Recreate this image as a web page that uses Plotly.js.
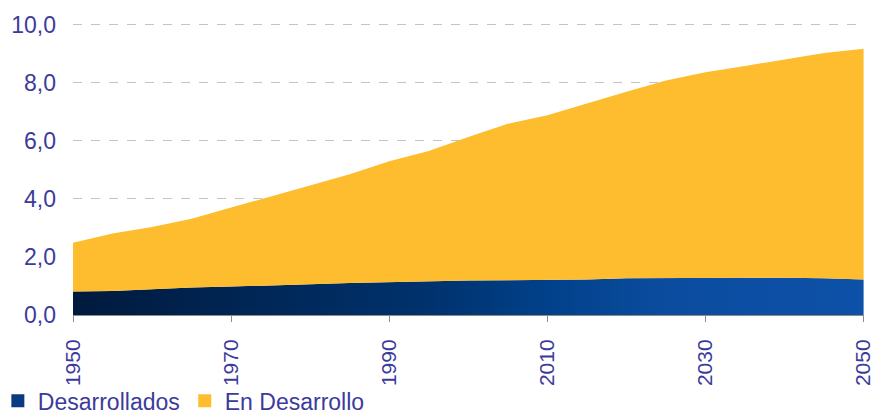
<!DOCTYPE html>
<html>
<head>
<meta charset="utf-8">
<script src="https://cdn.plot.ly/plotly-3.0.1.min.js"></script>
<style>
  html, body { margin: 0; padding: 0; background: #fff; }
  #chart { width: 874px; height: 414px; }
</style>
</head>
<body>
<div id="chart"></div>
<script>
// población mundial (miles de millones), cada 5 años
const years = [1950, 1955, 1960, 1965, 1970, 1975, 1980, 1985, 1990, 1995, 2000,
               2005, 2010, 2015, 2020, 2025, 2030, 2035, 2040, 2045, 2050];
const desarrollados = [0.81, 0.83, 0.89, 0.95, 0.98, 1.03, 1.06, 1.10, 1.13, 1.18, 1.19,
                       1.20, 1.21, 1.22, 1.27, 1.28, 1.28, 1.28, 1.28, 1.27, 1.22];
const enDesarrollo = [1.68, 1.98, 2.14, 2.37, 2.72, 3.06, 3.41, 3.75, 4.17, 4.47, 4.94,
                      5.39, 5.67, 6.07, 6.42, 6.80, 7.08, 7.30, 7.52, 7.76, 7.95];
const yTicks = [0, 2, 4, 6, 8, 10];
const xTicks = [1950, 1970, 1990, 2010, 2030, 2050];

const textColor = '#3b3b9c';
const blue = '#0a3b7e';
const yellow = '#fdbd2e';
const fontFamily = 'Liberation Sans, Arial, sans-serif';
const font = { family: fontFamily, size: 23, color: textColor };

const traces = [
	{
		name: 'Desarrollados',
		x: years, y: desarrollados,
		type: 'scatter', mode: 'lines',
		stackgroup: 'pob',
		line: { width: 0 },
		fillcolor: blue,
		fillgradient: {
			type: 'horizontal',
			colorscale: [[0, '#001a3d'], [0.45, '#00326d'], [0.6, '#01418a'], [0.75, '#0b4c9f'], [1, '#0d51a8']]
		},
		showlegend: false
	},
	{
		name: 'En Desarrollo',
		x: years, y: enDesarrollo,
		type: 'scatter', mode: 'lines',
		stackgroup: 'pob',
		line: { width: 0 },
		fillcolor: yellow,
		showlegend: false
	},
	// entradas de leyenda con símbolo cuadrado
	{
		name: 'Desarrollados',
		x: [null], y: [null],
		type: 'scatter', mode: 'markers',
		marker: { symbol: 'square', size: 13, color: blue, line: { width: 0 } }
	},
	{
		name: 'En Desarrollo',
		x: [null], y: [null],
		type: 'scatter', mode: 'markers',
		marker: { symbol: 'square', size: 13, color: yellow, line: { width: 0 } }
	}
];

const layout = {
	width: 874, height: 414,
	margin: { l: 73, r: 10, t: 23, b: 99, autoexpand: false },
	paper_bgcolor: '#fff',
	plot_bgcolor: '#fff',
	font: font,
	separators: ',.',
	showlegend: true,
	legend: {
		orientation: 'h',
		traceorder: 'normal',
		x: -0.095, xanchor: 'left',
		y: -0.22, yanchor: 'top',
		font: font,
		itemwidth: 30,
		tracegroupgap: 0,
		bgcolor: 'rgba(0,0,0,0)'
	},
	xaxis: {
		range: [1950, 2050.05],
		tickvals: xTicks,
		ticktext: xTicks.map(String),
		tickangle: -90,
		ticks: 'outside', ticklen: 6, tickcolor: '#8c8c8c',
		ticklabelstandoff: 9,
		ticklabeloverflow: 'allow',
		showgrid: false, zeroline: false,
		showline: true, linecolor: '#8c8c8c', linewidth: 1,
		automargin: false,
		tickfont: { family: fontFamily, size: 21, color: textColor }
	},
	yaxis: {
		range: [0, 10.06],
		tickvals: yTicks,
		tickformat: '.1f',
		ticks: '',
		ticklabelstandoff: 16,
		showgrid: true, gridcolor: '#c4c4c4', griddash: 'dash', gridwidth: 1,
		zeroline: false, showline: false,
		automargin: false,
		tickfont: font
	}
};

Plotly.newPlot('chart', traces, layout, { displayModeBar: false, staticPlot: true });
</script>
</body>
</html>
